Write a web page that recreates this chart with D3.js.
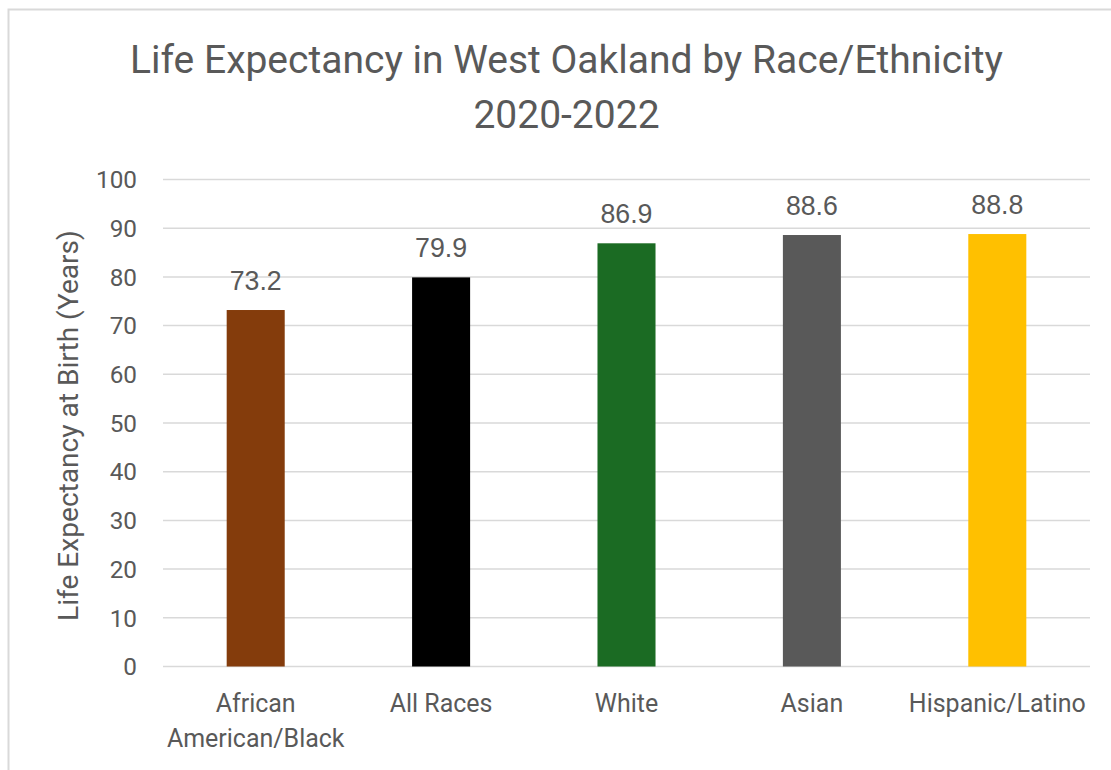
<!DOCTYPE html>
<html>
<head>
<meta charset="utf-8">
<script src="https://cdn.jsdelivr.net/npm/d3@7"></script>
<style>
  body { margin: 0; background: #fff; }
  text { font-family: Roboto, "Open Sans", sans-serif; fill: #595959; }
</style>
</head>
<body>
<div id="chart"></div>
<script>
var categories = ["African American/Black", "All Races", "White", "Asian", "Hispanic/Latino"];
var categoryLines = [["African", "American/Black"], ["All Races"], ["White"], ["Asian"], ["Hispanic/Latino"]];
var values = [73.2, 79.9, 86.9, 88.6, 88.8];
var colors = ["#843c0c", "#000000", "#1b6b23", "#595959", "#ffc000"];
var yTicks = [0, 10, 20, 30, 40, 50, 60, 70, 80, 90, 100];

var width = 1111,
    height = 770,
    margin = {top: 179.5, right: 21, bottom: 103.5, left: 163};

var svg = d3.select("#chart")
    .append("svg")
    .attr("width", width)
    .attr("height", height);

// scale a text's font size so it is as wide as the original (fonts differ)
function fitSize(sel, target) {
    var node = sel.node();
    var size = +sel.attr("font-size");
    var len = node.getComputedTextLength();
    return size * target / len;
}

// chart border (runs off the right and bottom edge in the original)
svg.append("rect")
    .attr("x", 8.5)
    .attr("y", 9.5)
    .attr("width", 1200)
    .attr("height", 900)
    .attr("fill", "none")
    .attr("stroke", "#d9d9d9")
    .attr("stroke-width", 2);

var x = d3.scaleBand()
    .domain(categories)
    .range([margin.left, width - margin.right])
    .paddingInner(0.687)
    .paddingOuter(0.3435);

var y = d3.scaleLinear()
    .domain([0, 100])
    .range([height - margin.bottom, margin.top]);

// gridlines
svg.append("g")
    .selectAll("line")
    .data(yTicks).enter()
    .append("line")
    .attr("x1", margin.left)
    .attr("x2", width - margin.right)
    .attr("y1", function(d) { return y(d); })
    .attr("y2", function(d) { return y(d); })
    .attr("stroke", "#d9d9d9")
    .attr("stroke-width", 1.5);

// y tick labels
var ticks = svg.append("g")
    .selectAll("text")
    .data(yTicks).enter()
    .append("text")
    .attr("x", 137)
    .attr("y", function(d) { return y(d); })
    .attr("dy", "0.36em")
    .attr("text-anchor", "end")
    .attr("font-size", 21)
    .text(function(d) { return d; });
var tickSize = fitSize(ticks.filter(function(d) { return d === 100; }), 41);
ticks.attr("font-size", tickSize);

// bars
svg.append("g")
    .selectAll("rect")
    .data(values).enter()
    .append("rect")
    .attr("x", function(d, i) { return x(categories[i]); })
    .attr("y", function(d) { return y(d); })
    .attr("width", x.bandwidth())
    .attr("height", function(d) { return y(0) - y(d); })
    .attr("fill", function(d, i) { return colors[i]; });

// data labels
var labels = svg.append("g")
    .selectAll("text")
    .data(values).enter()
    .append("text")
    .attr("x", function(d, i) { return x(categories[i]) + x.bandwidth() / 2; })
    .attr("y", function(d) { return y(d) - 20; })
    .attr("text-anchor", "middle")
    .style("font-family", "'Liberation Sans', Arial, sans-serif")
    .attr("font-size", 24)
    .text(function(d) { return d.toFixed(1); });
labels.attr("font-size", fitSize(labels.filter(function(d, i) { return i === 0; }), 52));

// category labels
var cat = svg.append("g")
    .selectAll("text")
    .data(categoryLines).enter()
    .append("text")
    .attr("text-anchor", "middle")
    .attr("font-size", 22)
    .attr("x", function(d, i) { return x(categories[i]) + x.bandwidth() / 2; })
    .attr("y", 712);
cat.selectAll("tspan")
    .data(function(d) { return d; }).enter()
    .append("tspan")
    .attr("x", function() { return d3.select(this.parentNode).attr("x"); })
    .attr("dy", function(d, i) { return i ? 35 : 0; })
    .text(function(d) { return d; });
cat.attr("font-size", fitSize(cat.filter(function(d, i) { return i === 4; }), 177));

// y axis title
var yTitle = svg.append("text")
    .attr("transform", "translate(78,425.5) rotate(-90)")
    .attr("text-anchor", "middle")
    .attr("font-size", 21)
    .text("Life Expectancy at Birth (Years)");
yTitle.attr("font-size", fitSize(yTitle, 391));

// title
var t1 = svg.append("text")
    .attr("x", 566.5)
    .attr("y", 73)
    .attr("text-anchor", "middle")
    .attr("font-size", 37)
    .text("Life Expectancy in West Oakland by Race/Ethnicity");
var titleSize = fitSize(t1, 873);
t1.attr("font-size", titleSize);
svg.append("text")
    .attr("x", 566.5)
    .attr("y", 128)
    .attr("text-anchor", "middle")
    .attr("font-size", titleSize)
    .text("2020-2022");
</script>
</body>
</html>
